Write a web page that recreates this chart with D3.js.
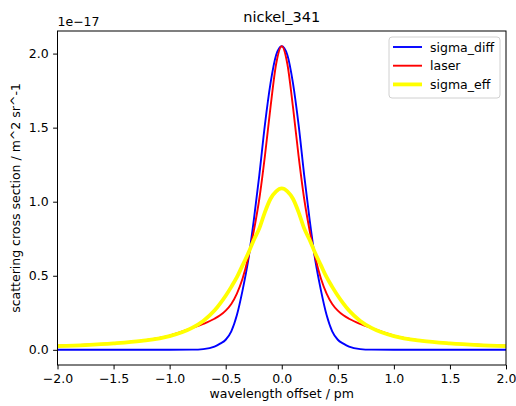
<!DOCTYPE html>
<html>
<head>
<meta charset="utf-8">
<script src="https://cdn.jsdelivr.net/npm/d3@7"></script>
<style>
  body { margin: 0; background: #fff; }
  svg { font-family: "DejaVu Sans", sans-serif; }
</style>
</head>
<body>
<div class="canvas"></div>
<script>
// wavelength offset / pm
const xs = [-2.0, -1.75, -1.5, -1.25, -1.0, -0.8, -0.7, -0.6, -0.55, -0.5, -0.45, -0.4, -0.35, -0.3, -0.25, -0.2, -0.15, -0.1, -0.05,
  0,
  0.05, 0.1, 0.15, 0.2, 0.25, 0.3, 0.35, 0.4, 0.45, 0.5, 0.55, 0.6, 0.7, 0.8, 1.0, 1.25, 1.5, 1.75, 2.0];

// values in units of 1e-17
const sigmaDiff = [0, 0, 0, 0, 0, 0.001, 0.005, 0.022, 0.042, 0.068, 0.125, 0.235, 0.40, 0.60, 0.87, 1.18, 1.52, 1.80, 1.99,
  2.05,
  1.99, 1.80, 1.52, 1.18, 0.87, 0.60, 0.40, 0.235, 0.125, 0.068, 0.042, 0.022, 0.005, 0.001, 0, 0, 0, 0, 0];

const laser = [0.027, 0.034, 0.045, 0.062, 0.096, 0.147, 0.175, 0.21, 0.233, 0.265, 0.31, 0.38, 0.48, 0.62, 0.80, 1.02, 1.31, 1.64, 1.93,
  2.05,
  1.93, 1.64, 1.31, 1.02, 0.80, 0.62, 0.48, 0.38, 0.31, 0.265, 0.233, 0.21, 0.175, 0.147, 0.096, 0.062, 0.045, 0.034, 0.027];

const sigmaEff = [0.025, 0.032, 0.043, 0.06, 0.092, 0.148, 0.195, 0.265, 0.312, 0.365, 0.425, 0.49, 0.57, 0.65, 0.74, 0.82, 0.93, 1.02, 1.07,
  1.09,
  1.07, 1.02, 0.93, 0.82, 0.74, 0.65, 0.57, 0.49, 0.425, 0.365, 0.312, 0.265, 0.195, 0.148, 0.092, 0.06, 0.043, 0.032, 0.025];

const xTicks = [-2.0, -1.5, -1.0, -0.5, 0.0, 0.5, 1.0, 1.5, 2.0];
const yTicks = [0.0, 0.5, 1.0, 1.5, 2.0];

const series = [
  {name: 'sigma_diff', values: sigmaDiff, color: '#0000ff', width: 1.9},
  {name: 'laser', values: laser, color: '#ff0000', width: 1.9},
  {name: 'sigma_eff', values: sigmaEff, color: '#ffff00', width: 3.8}
];

const width = 516;
const height = 406;
const margin = {top: 31, right: 10, bottom: 41, left: 57.5};
const graphWidth = width - margin.left - margin.right;
const graphHeight = height - margin.top - margin.bottom;

const svg = d3.select('.canvas')
  .append('svg')
  .attr('width', width)
  .attr('height', height);

const graph = svg.append('g')
  .attr('transform', `translate(${margin.left}, ${margin.top})`);

const x = d3.scaleLinear()
  .domain([-2, 2])
  .range([0, graphWidth]);

const y = d3.scaleLinear()
  .domain([-0.1025, 2.1525])
  .range([graphHeight, 0]);

svg.append('defs').append('clipPath')
  .attr('id', 'clip')
  .append('rect')
  .attr('width', graphWidth)
  .attr('height', graphHeight);

const line = d3.line()
  .x(d => x(d[0]))
  .y(d => y(d[1]))
  .curve(d3.curveMonotoneX);

const lines = graph.append('g').attr('clip-path', 'url(#clip)');
series.forEach(s => {
  lines.append('path')
    .datum(xs.map((v, i) => [v, s.values[i]]))
    .attr('fill', 'none')
    .attr('stroke', s.color)
    .attr('stroke-width', s.width)
    .attr('stroke-linejoin', 'round')
    .attr('d', line);
});

// axes
const fmt = d => d3.format('.1f')(d).replace('-', '\u2212');

const gXAxis = graph.append('g')
  .attr('transform', `translate(0, ${graphHeight})`)
  .call(d3.axisBottom(x).tickValues(xTicks).tickFormat(fmt).tickSizeInner(4.4).tickSizeOuter(0).tickPadding(4.5));
const gYAxis = graph.append('g')
  .call(d3.axisLeft(y).tickValues(yTicks).tickFormat(fmt).tickSizeInner(4.4).tickSizeOuter(0).tickPadding(4.5));

[gXAxis, gYAxis].forEach(g => {
  g.select('.domain').remove();
  g.selectAll('text')
    .style('font-size', '12.5px')
    .style('font-family', '"DejaVu Sans", sans-serif')
    .attr('fill', '#000');
  g.selectAll('line').attr('stroke', '#000').attr('stroke-width', 1);
});

// frame
graph.append('rect')
  .attr('width', graphWidth)
  .attr('height', graphHeight)
  .attr('fill', 'none')
  .attr('stroke', '#000')
  .attr('stroke-width', 1);

// offset text
graph.append('text')
  .attr('x', 0)
  .attr('y', -5)
  .style('font-size', '12.5px')
  .text('1e\u221217');

// title
svg.append('text')
  .attr('x', margin.left + graphWidth / 2)
  .attr('y', 22)
  .style('text-anchor', 'middle')
  .style('font-size', '14.5px')
  .text('nickel_341');

// axis labels
svg.append('text')
  .attr('x', margin.left + graphWidth / 2)
  .attr('y', 398)
  .style('text-anchor', 'middle')
  .style('font-size', '12.5px')
  .text('wavelength offset / pm');

svg.append('text')
  .attr('transform', `translate(20, ${margin.top + graphHeight / 2}) rotate(-90)`)
  .style('text-anchor', 'middle')
  .style('font-size', '12.5px')
  .text('scattering cross section / m^2 sr^-1');

// legend
const legend = svg.append('g')
  .attr('transform', 'translate(389, 37)');
legend.append('rect')
  .attr('width', 111)
  .attr('height', 61)
  .attr('rx', 3)
  .attr('fill', '#fff')
  .attr('fill-opacity', 0.8)
  .attr('stroke', '#d0d0d0')
  .attr('stroke-width', 1);
series.forEach((s, i) => {
  const row = legend.append('g').attr('transform', `translate(0, ${10 + i * 18.7})`);
  row.append('line')
    .attr('x1', 4).attr('x2', 33)
    .attr('y1', 0).attr('y2', 0)
    .attr('stroke', s.color)
    .attr('stroke-width', s.width);
  row.append('text')
    .attr('x', 41)
    .attr('y', 4.5)
    .style('font-size', '12.5px')
    .text(s.name);
});
</script>
</body>
</html>
